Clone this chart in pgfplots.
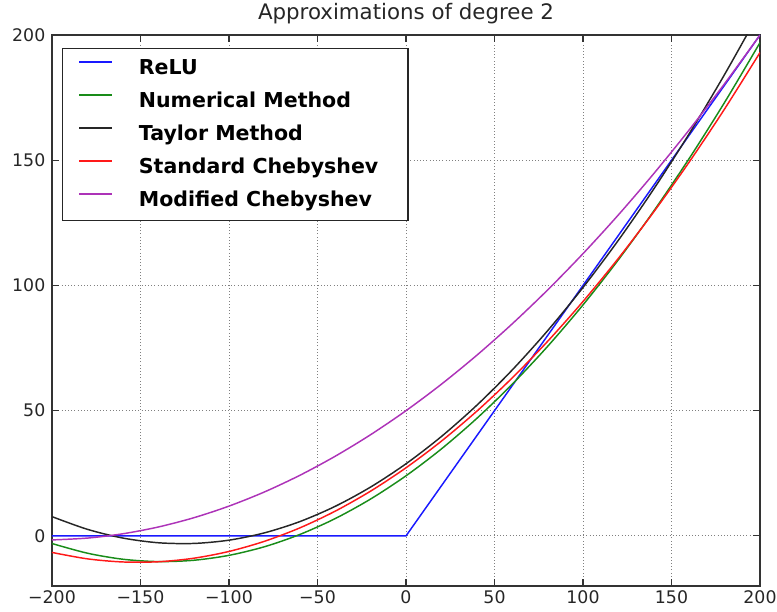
\documentclass[border=0pt]{standalone}
\usepackage{pgfplots}
\pgfplotsset{compat=1.18}
\usepackage{fontspec}
\setmainfont{DejaVu Sans}

\definecolor{mplblue}{rgb}{0.1,0.1,1}
\definecolor{mplgreen}{rgb}{0.1,0.55,0.1}
\definecolor{mplred}{rgb}{1,0.1,0.1}
\definecolor{mplmag}{rgb}{0.68,0.2,0.72}

\begin{document}
\begin{tikzpicture}
\path[use as bounding box] (-39pt,-18.75pt) rectangle (543.75pt,439.5pt);
\begin{axis}[
    at={(0,0)}, anchor=south west,
    scale only axis,
    width=531pt, height=413.25pt,
    xmin=-200, xmax=200, ymin=-20, ymax=200,
    xtick={-200,-150,-100,-50,0,50,100,150,200},
    xticklabels={−200,−150,−100,−50,0,50,100,150,200},
    ytick={0,50,100,150,200},
    yticklabels={0,50,100,150,200},
    ticklabel style={font=\fontsize{13}{15}\selectfont, text=black!85},
    yticklabel style={xshift=-1.5pt},
    major tick length=5.5pt,
    tick style={black!80, line width=0.8pt},
    axis line style={black!80, line width=1.1pt},
    grid=major,
    major grid style={dotted, gray, line width=0.7pt},
    title={Approximations of degree 2},
    title style={font=\fontsize{16}{19}\selectfont, text=black!85, yshift=-1pt},
    legend style={at={(0.0141,0.9764)}, anchor=north west,
        draw=black!85, line width=1.1pt,
        inner xsep=12pt, inner ysep=7.5pt,
        column sep=19.5pt, row sep=9.75pt,
        font=\bfseries\fontsize{15.4}{18}\selectfont,
        nodes={inner xsep=0pt, inner ysep=0pt, text height=12pt, text depth=3pt}},
    legend cell align=left,
    legend image code/.code={\draw[#1, line width=0.9pt] (0pt,5pt) -- (24.75pt,5pt);},
    every axis plot/.append style={line width=1.1pt},
]
\addplot[mplblue] coordinates {(-200,0) (0,0) (200,200)};
\addplot[mplgreen, smooth] coordinates {
(-200,-3.04) (-180,-6.9) (-160,-9.31) (-140,-10.25) (-120,-9.73) (-100,-7.76)
(-80,-4.33) (-60,0.57) (-40,6.92) (-20,14.73) (0,24) (20,34.73) (40,46.92)
(60,60.57) (80,75.67) (100,92.24) (120,110.27) (140,129.75) (160,150.69)
(180,173.1) (200,196.96)};
\addplot[black!85, smooth] coordinates {
(-200,7.7) (-180,2.63) (-160,-0.85) (-140,-2.73) (-120,-3.01) (-100,-1.7)
(-80,1.21) (-60,5.71) (-40,11.81) (-20,19.51) (0,28.8) (20,39.69) (40,52.17)
(60,66.25) (80,81.93) (100,99.2) (120,118.07) (140,138.53) (160,160.59)
(180,184.25) (200,209.5)};
\addplot[mplred, smooth] coordinates {
(-200,-6.6) (-180,-9.16) (-160,-10.4) (-140,-10.32) (-120,-8.92) (-100,-6.2)
(-80,-2.16) (-60,3.2) (-40,9.88) (-20,17.88) (0,27.2) (20,37.84) (40,49.8)
(60,63.08) (80,77.68) (100,93.6) (120,110.84) (140,129.4) (160,149.28)
(180,170.48) (200,193)};
\addplot[mplmag, smooth] coordinates {
(-200,-1.6) (-180,-0.87) (-160,0.85) (-140,3.55) (-120,7.23) (-100,11.9)
(-80,17.55) (-60,24.19) (-40,31.81) (-20,40.41) (0,50) (20,60.57) (40,72.13)
(60,84.67) (80,98.19) (100,112.7) (120,128.19) (140,144.67) (160,162.13)
(180,180.57) (200,200)};
\legend{\makebox[189.75pt][l]{ReLU},
        \makebox[189.75pt][l]{Numerical Method},
        \makebox[189.75pt][l]{Taylor Method},
        \makebox[189.75pt][l]{Standard Chebyshev},
        \makebox[189.75pt][l]{Modified Chebyshev}}
\end{axis}
\end{tikzpicture}
\end{document}
